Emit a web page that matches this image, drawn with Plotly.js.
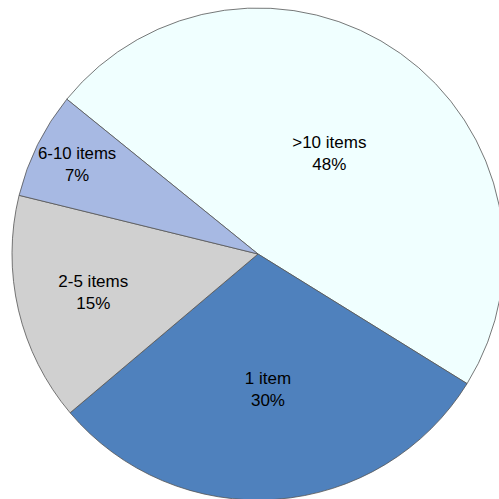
<!DOCTYPE html>
<html>
<head>
<meta charset="utf-8">
<script src="https://cdn.plot.ly/plotly-3.0.1.min.js"></script>
<style>html,body{margin:0;padding:0;background:#fff;overflow:hidden;width:499px;height:499px;}#chart{width:504px;height:500px;}</style>
</head>
<body>
<div id="chart"></div>
<script>
const categories = [">10 items", "1 item", "2-5 items", "6-10 items"];
const shares = [48, 30, 15, 7];
const sliceColors = ["#F0FFFF", "#4F81BD", "#D0D0D0", "#A7B9E3"];

const trace = {
  type: "pie",
  labels: categories,
  values: shares,
  sort: false,
  direction: "clockwise",
  rotation: -51,
  marker: {colors: sliceColors, line: {color: "#555555", width: 0.8}},
  textinfo: "label+percent",
  textposition: "inside",
  insidetextorientation: "horizontal",
  textfont: {family: "'Liberation Sans', Arial, sans-serif", size: 17, color: "#000000"},
  hoverinfo: "none"
};

const layout = {
  width: 504, height: 500,
  margin: {l: 12, r: 0, t: 8, b: 0},
  showlegend: false,
  paper_bgcolor: "#ffffff"
};

Plotly.newPlot("chart", [trace], layout, {displayModeBar: false, staticPlot: true});
</script>
</body>
</html>
